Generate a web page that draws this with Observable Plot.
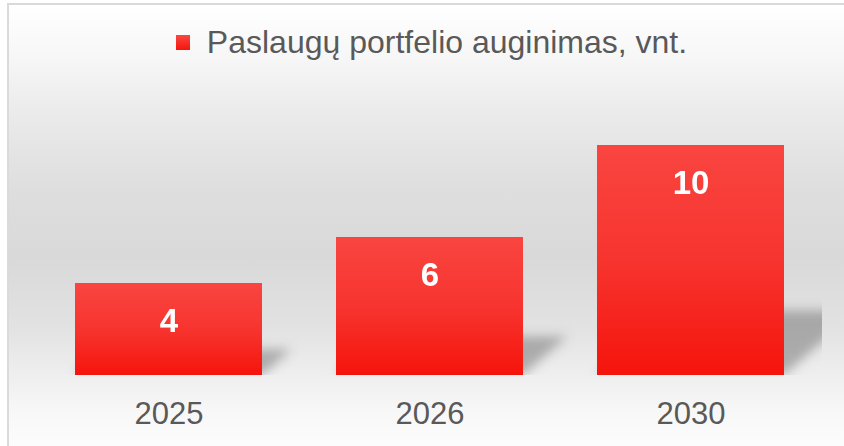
<!DOCTYPE html>
<html>
<head>
<meta charset="utf-8">
<script src="https://cdn.jsdelivr.net/npm/d3@7"></script>
<script src="https://cdn.jsdelivr.net/npm/@observablehq/plot@0.6"></script>
<style>
  html, body { margin: 0; padding: 0; background: #ffffff; }
  #chart { position: relative; width: 844px; height: 446px; overflow: hidden; font-family: "Liberation Sans", Arial, sans-serif; }
  #frame { position: absolute; left: 7px; top: 3px; width: 860px; height: 460px; border: 2px solid #dadada;
    background: linear-gradient(to bottom, #ffffff 0%, #f6f6f6 12%, #ececec 22%, #dedede 40%, #d9d9d9 55%, #e2e2e2 70%, #eeeeee 80%, #f7f7f7 88%, #fdfdfd 97%, #ffffff 100%); }
  #legend { position: absolute; left: 0; top: 25px; width: 844px; display: flex; justify-content: center; align-items: center; }
  #legend .sw { width: 14px; height: 15px; background: linear-gradient(to bottom, #f94842, #f5140c); margin-right: 17px; margin-left: 19px; }
  #legend .lb { font-size: 32px; color: #595959; line-height: 34px; }
  #plot { position: absolute; left: 0; top: 0; }
  #defs { position: absolute; width: 0; height: 0; }
</style>
</head>
<body>
<div id="chart">
  <div id="frame"></div>
  <svg id="defs" width="0" height="0">
    <defs>
      <linearGradient id="barGrad" x1="0" y1="0" x2="0" y2="1">
        <stop offset="0%" stop-color="#f94540"/>
        <stop offset="50%" stop-color="#f7342f"/>
        <stop offset="100%" stop-color="#f5140c"/>
      </linearGradient>
      <filter id="shadowBlur" x="-30%" y="-30%" width="160%" height="160%">
        <feGaussianBlur stdDeviation="5.5"/>
      </filter>
    </defs>
  </svg>
  <div id="legend"><div class="sw"></div><div class="lb">Paslaugų portfelio auginimas, vnt.</div></div>
  <div id="plot"></div>
</div>
<script>
const years = ["2025", "2026", "2030"];
const values = [4, 6, 10];
const seriesName = "Paslaugų portfelio auginimas, vnt.";

const data = years.map((y, i) => ({year: y, value: values[i]}));

const plot = Plot.plot({
  width: 844,
  height: 446,
  marginTop: 99,
  marginBottom: 71,
  marginLeft: 37,
  marginRight: 22,
  style: {background: "transparent", fontFamily: "'Liberation Sans', Arial, sans-serif", overflow: "visible"},
  x: {domain: years, paddingInner: 0.282, paddingOuter: 0.141, label: null},
  y: {domain: [0, 12], axis: null},
  marks: [
    Plot.barY(data, {x: "year", y: "value", fill: "#6e6e6e", fillOpacity: 0.5, clip: "frame"}),
    Plot.barY(data, {x: "year", y: "value", fill: "url(#barGrad)"}),
    Plot.text(data, {x: "year", y: "value", text: d => String(d.value), dy: 38, fill: "white", fontWeight: "bold", fontSize: 33}),
    Plot.axisX({tickSize: 0, tickPadding: 26, fontSize: 31, color: "#595959", label: null})
  ]
});
document.getElementById("plot").appendChild(plot);

// perspective shadow: squash and skew the grey copies of the bars onto the back wall
const y0 = plot.scale("y").apply(0);
const k = 0.28, s = 0.32;
d3.select(plot).selectAll("g").filter(function() { return this.getAttribute("fill") === "#6e6e6e"; })
  .attr("filter", "url(#shadowBlur)")
  .selectAll("rect")
  .attr("transform", `matrix(1,0,${-s},${k},${s * y0},${y0 * (1 - k)})`);
</script>
</body>
</html>
